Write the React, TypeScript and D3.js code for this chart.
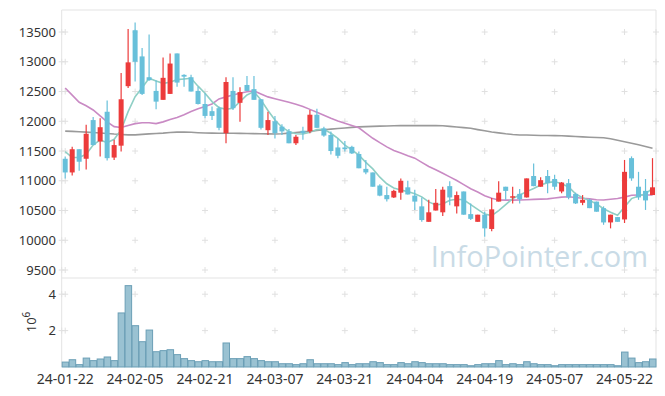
import React, { useEffect, useRef } from 'react';
import * as d3 from 'd3';

// trading days shown (yy-mm-dd)
const dates = [
  '24-01-22', '24-01-23', '24-01-24', '24-01-25', '24-01-26', '24-01-29', '24-01-30', '24-01-31', '24-02-01', '24-02-02',
  '24-02-05', '24-02-06', '24-02-07', '24-02-08', '24-02-13', '24-02-14', '24-02-15', '24-02-16', '24-02-19', '24-02-20',
  '24-02-21', '24-02-22', '24-02-23', '24-02-26', '24-02-27', '24-02-28', '24-02-29', '24-03-04', '24-03-05', '24-03-06',
  '24-03-07', '24-03-08', '24-03-11', '24-03-12', '24-03-13', '24-03-14', '24-03-15', '24-03-18', '24-03-19', '24-03-20',
  '24-03-21', '24-03-22', '24-03-25', '24-03-26', '24-03-27', '24-03-28', '24-03-29', '24-04-01', '24-04-02', '24-04-03',
  '24-04-04', '24-04-05', '24-04-08', '24-04-09', '24-04-11', '24-04-12', '24-04-15', '24-04-16', '24-04-17', '24-04-18',
  '24-04-19', '24-04-22', '24-04-23', '24-04-24', '24-04-25', '24-04-26', '24-04-29', '24-04-30', '24-05-02', '24-05-03',
  '24-05-07', '24-05-08', '24-05-09', '24-05-10', '24-05-13', '24-05-14', '24-05-16', '24-05-17', '24-05-20', '24-05-21',
  '24-05-22', '24-05-23', '24-05-24', '24-05-27', '24-05-28',
];

const opens = [
  11370, 11140, 11530, 11370, 12020, 11660, 12160, 11390, 11590, 12590,
  13530, 13090, 12740, 12510, 12360, 12460, 13140, 12780, 12740, 12510,
  12290, 12170, 12220, 11800, 12510, 12310, 12610, 12540, 12370, 11850,
  12000, 11910, 11830, 11630, 11840, 11830, 12110, 11880, 11770, 11560,
  11560, 11570, 11450, 11200, 11140, 10920, 10760, 10720, 10800, 10890,
  10750, 10570, 10310, 10500, 10470, 10910, 10570, 10820, 10440, 10310,
  10430, 10190, 10650, 10900, 10720, 10780, 10720, 11080, 10900, 11080,
  11030, 10820, 10960, 10780, 10630, 10680, 10650, 10540, 10300, 10390,
  10350, 11380, 10900, 10830, 10760,
];
const highs = [
  11410, 11570, 11530, 11940, 12070, 12050, 12350, 11690, 12810, 13550,
  13660, 13230, 13460, 12690, 13070, 13140, 13140, 12790, 12780, 12580,
  12470, 12250, 12250, 12740, 12740, 12570, 12760, 12760, 12370, 12160,
  12090, 11950, 11870, 11770, 11910, 12190, 12210, 11910, 11830, 11710,
  11670, 11590, 11490, 11350, 11140, 10940, 10900, 10850, 11040, 11000,
  10850, 10720, 10680, 10860, 10900, 10990, 10820, 10820, 10620, 10430,
  10480, 10710, 10990, 10900, 10900, 10860, 11040, 11290, 11060, 11180,
  11100, 10980, 11030, 10800, 10760, 10700, 10650, 10570, 10430, 10390,
  11350, 11410, 11150, 11030, 11380,
];
const lows = [
  11040, 11090, 11170, 11190, 11600, 11410, 11340, 11350, 11490, 12560,
  12670, 12440, 12680, 12200, 12360, 12460, 12580, 12580, 12500, 12280,
  12050, 12020, 11850, 11630, 12190, 11990, 12510, 12360, 11860, 11770,
  11710, 11770, 11630, 11600, 11690, 11800, 11890, 11740, 11440, 11380,
  11490, 11450, 11210, 11110, 10900, 10740, 10650, 10710, 10680, 10770,
  10510, 10310, 10310, 10500, 10410, 10590, 10450, 10430, 10340, 10310,
  10060, 10150, 10650, 10680, 10620, 10620, 10720, 10910, 10900, 10790,
  10850, 10790, 10690, 10610, 10590, 10540, 10480, 10260, 10200, 10310,
  10290, 11000, 10680, 10510, 10760,
];
const closes = [
  11140, 11530, 11320, 11790, 11600, 11900, 11380, 11600, 12370, 12990,
  13000, 12460, 12690, 12330, 12730, 12970, 12650, 12750, 12500, 12290,
  12090, 12090, 11890, 12660, 12220, 12490, 12510, 12360, 11890, 12020,
  11800, 11830, 11630, 11740, 11800, 12110, 11890, 11760, 11500, 11420,
  11530, 11460, 11210, 11140, 10900, 10750, 10690, 10830, 11000, 10770,
  10650, 10340, 10470, 10630, 10850, 10720, 10760, 10430, 10360, 10430,
  10200, 10520, 10800, 10830, 10740, 10690, 11040, 10910, 11010, 10960,
  10900, 10970, 10720, 10620, 10680, 10540, 10480, 10300, 10430, 10310,
  11150, 11040, 10720, 10670, 10890,
];

// volume, millions of shares
const volumes = [
  0.27, 0.40, 0.13, 0.49, 0.35, 0.44, 0.55, 0.35, 2.97, 4.47,
  2.27, 1.39, 2.03, 0.84, 0.90, 0.95, 0.68, 0.46, 0.35, 0.29,
  0.35, 0.29, 0.29, 1.32, 0.46, 0.46, 0.57, 0.46, 0.35, 0.29,
  0.29, 0.18, 0.18, 0.13, 0.18, 0.40, 0.18, 0.18, 0.18, 0.13,
  0.24, 0.13, 0.18, 0.18, 0.29, 0.24, 0.13, 0.13, 0.24, 0.18,
  0.29, 0.24, 0.18, 0.18, 0.18, 0.13, 0.13, 0.13, 0.07, 0.13,
  0.18, 0.18, 0.35, 0.13, 0.18, 0.13, 0.29, 0.18, 0.13, 0.13,
  0.07, 0.13, 0.13, 0.13, 0.13, 0.13, 0.13, 0.13, 0.13, 0.07,
  0.82, 0.49, 0.24, 0.29, 0.44,
];

// moving averages as drawn (short / medium / long)
const maShort = [
  11490, 11390, 11390, 11445, 11600, 11686, 11640, 11697, 11854, 12162,
  12414, 12565, 12722, 12677, 12638, 12655, 12700, 12710, 12722, 12590,
  12470, 12330, 12229, 12201, 12218, 12330, 12442, 12498, 12358, 12180,
  12022, 11900, 11826, 11790, 11786, 11814, 11860, 11865, 11798, 11714,
  11600, 11518, 11430, 11310, 11200, 11060, 10950, 10880, 10846, 10818,
  10780, 10730, 10645, 10594, 10610, 10672, 10689, 10680, 10600, 10520,
  10440, 10415, 10500, 10600, 10700, 10760, 10818, 10870, 10930, 10969,
  10986, 10950, 10895, 10780, 10715, 10670, 10610, 10530, 10470, 10420,
  10560, 10700, 10745, 10780, 10874,
];
const maMid = [
  12560, 12440, 12320, 12260, 12190, 12090, 11990, 11910, 11895, 11930,
  11960, 11975, 11975, 11960, 11990, 12030, 12065, 12110, 12165, 12210,
  12250, 12290, 12375, 12410, 12440, 12470, 12495, 12510, 12460, 12410,
  12380, 12350, 12320, 12285, 12250, 12200, 12150, 12100, 12050, 12005,
  11965, 11930, 11890, 11800, 11714, 11640, 11570, 11510, 11465, 11420,
  11380, 11310, 11240, 11185, 11125, 11065, 11005, 10935, 10865, 10810,
  10750, 10705, 10678, 10675, 10675, 10678, 10682, 10688, 10692, 10696,
  10710, 10725, 10732, 10720, 10705, 10695, 10682, 10678, 10690, 10702,
  10725, 10758, 10762, 10762, 10762,
];
const maLong = [
  11835, 11830, 11825, 11818, 11810, 11803, 11795, 11785, 11778, 11772,
  11772, 11780, 11788, 11795, 11800, 11810, 11818, 11820, 11815, 11808,
  11802, 11800, 11798, 11798, 11798, 11796, 11794, 11792, 11790, 11788,
  11786, 11790, 11800, 11812, 11822, 11830, 11845, 11858, 11868, 11878,
  11888, 11898, 11905, 11910, 11914, 11918, 11921, 11924, 11926, 11926,
  11926, 11926, 11926, 11926, 11924, 11915, 11905, 11893, 11882, 11860,
  11840, 11820, 11805, 11790, 11778, 11770, 11768, 11765, 11762, 11760,
  11758, 11756, 11750, 11745, 11738, 11732, 11727, 11722, 11705, 11680,
  11655, 11630, 11605, 11575, 11546,
];

const priceTicks = [9500, 10000, 10500, 11000, 11500, 12000, 12500, 13000, 13500];
const volumeTicks = [2, 4];
const dateTickIdx = [0, 10, 20, 30, 40, 50, 60, 70, 80];

function CandleChart() {
  const svgRef = useRef<SVGSVGElement>(null);

  useEffect(() => {
    document.body.style.margin = '0';
    const svg = d3.select(svgRef.current);
    svg.selectAll('*').remove();

    const left = 61.7, right = 656, top = 10, split = 278, bottom = 367;
    const font = '"Noto Sans", "DejaVu Sans", sans-serif';

    const x = d3.scaleBand<number>().domain(d3.range(dates.length)).range([left, right]);
    const cx = (i: number) => (x(i) as number) + x.bandwidth() / 2;
    const y = d3.scaleLinear().domain([9366, 13870]).range([split, top]);
    const yv = d3.scaleLinear().domain([0, 4.89]).range([bottom, split]);

    // frame
    const frame = svg.append('g').attr('stroke', '#e3e3e3').attr('fill', 'none');
    frame.append('path').attr('d', `M${left},${bottom}V${top}H${right}V${bottom}`);
    frame.append('line').attr('x1', left).attr('x2', right).attr('y1', split).attr('y2', split);

    // "+" grid markers
    const plus = (px: number, py: number) =>
      svg.append('path')
        .attr('d', `M${px - 3},${py}H${px + 3}M${px},${py - 3}V${py + 3}`)
        .attr('stroke', '#e0e0e0')
        .attr('stroke-width', 1);
    const gridXs = [left, ...dateTickIdx.map(cx), right];
    priceTicks.forEach(t => gridXs.forEach(gx => plus(gx, y(t))));
    volumeTicks.forEach(t => gridXs.forEach(gx => plus(gx, yv(t))));

    // watermark
    svg.append('text')
      .attr('x', 648)
      .attr('y', 267)
      .attr('text-anchor', 'end')
      .attr('font-family', '"Open Sans", sans-serif')
      .attr('font-size', 29)
      .attr('fill', '#c9dbe6')
      .text('InfoPointer.com');

    // moving averages
    const line = (vals: number[]) => d3.line<number>()
      .x((_, i) => cx(i))
      .y(d => y(d))(vals);
    svg.append('path').attr('d', line(maLong)).attr('fill', 'none')
      .attr('stroke', '#9a9a9a').attr('stroke-width', 1.6);
    svg.append('path').attr('d', line(maMid)).attr('fill', 'none')
      .attr('stroke', '#c98ac4').attr('stroke-width', 1.6);
    svg.append('path').attr('d', line(maShort)).attr('fill', 'none')
      .attr('stroke', '#8fcfc5').attr('stroke-width', 1.6);

    // candles
    const up = '#ec3b3b', down = '#68c0da';
    const bw = 5;
    const candles = svg.append('g')
      .selectAll('g')
      .data(d3.range(dates.length))
      .join('g')
      .attr('fill', i => closes[i] >= opens[i] ? up : down)
      .attr('stroke', i => closes[i] >= opens[i] ? up : down);
    candles.append('line')
      .attr('x1', i => cx(i)).attr('x2', i => cx(i))
      .attr('y1', i => y(highs[i])).attr('y2', i => y(lows[i]))
      .attr('stroke-width', 1.2);
    candles.append('rect')
      .attr('x', i => cx(i) - bw / 2)
      .attr('width', bw)
      .attr('y', i => y(Math.max(opens[i], closes[i])))
      .attr('height', i => Math.max(1.5, Math.abs(y(opens[i]) - y(closes[i]))))
      .attr('stroke', 'none');

    // volume bars
    svg.append('g')
      .selectAll('rect')
      .data(volumes)
      .join('rect')
      .attr('x', (_, i) => (x(i) as number) + 0.5)
      .attr('width', x.bandwidth() - 0.5)
      .attr('y', d => yv(d))
      .attr('height', d => bottom - yv(d))
      .attr('fill', '#9ac2d2')
      .attr('stroke', '#6b9fb6')
      .attr('stroke-width', 1);

    // price axis labels
    svg.append('g')
      .selectAll('text')
      .data(priceTicks)
      .join('text')
      .attr('x', 56)
      .attr('y', d => y(d))
      .attr('dy', '0.35em')
      .attr('text-anchor', 'end')
      .attr('font-family', font)
      .attr('font-size', 13)
      .attr('fill', '#333')
      .text(d => d);

    // volume axis labels
    svg.append('g')
      .selectAll('text')
      .data(volumeTicks)
      .join('text')
      .attr('x', 56)
      .attr('y', d => yv(d))
      .attr('dy', '0.35em')
      .attr('text-anchor', 'end')
      .attr('font-family', font)
      .attr('font-size', 13)
      .attr('fill', '#333')
      .text(d => d);

    const unit = svg.append('text')
      .attr('transform', 'translate(36,322) rotate(-90)')
      .attr('text-anchor', 'middle')
      .attr('font-family', font)
      .attr('font-size', 13)
      .attr('fill', '#333');
    unit.append('tspan').text('10');
    unit.append('tspan').attr('dy', -6).attr('font-size', 10).text('6');

    // date labels
    svg.append('g')
      .selectAll('text')
      .data(dateTickIdx)
      .join('text')
      .attr('x', i => cx(i))
      .attr('y', 384)
      .attr('text-anchor', 'middle')
      .attr('font-family', font)
      .attr('font-size', 14)
      .attr('fill', '#333')
      .text(i => dates[i]);
  }, []);

  return <svg ref={svgRef} width={665} height={396} style={{ display: 'block' }} />;
}

export default function App() {
  return <CandleChart />;
}
